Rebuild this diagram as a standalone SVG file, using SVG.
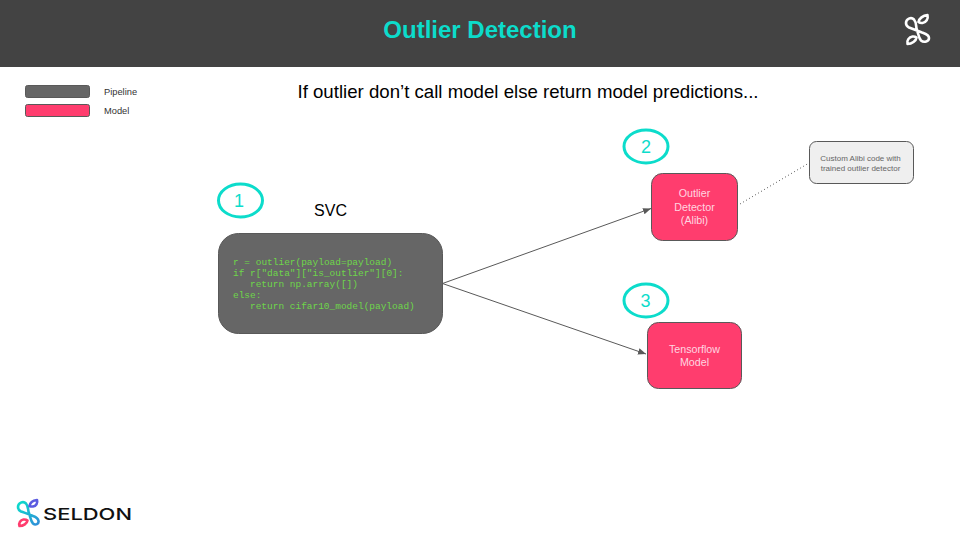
<svg xmlns="http://www.w3.org/2000/svg" width="960" height="540" viewBox="0 0 960 540">
<style>
text{font-family:"Liberation Sans",Arial,sans-serif}
.pipe{fill:#666;stroke:#595959;stroke-width:1}
.model{fill:#ff3d6e;stroke:#595959;stroke-width:1}
.badge{fill:#fff;stroke:#0cdccb;stroke-width:3}
.num{fill:#0cdccb;font-size:18px;text-anchor:middle}
.mt{fill:#ffd5e0;font-size:10.7px;text-anchor:middle}
.code{fill:#6ed64a;font-family:"Liberation Mono",monospace;font-size:9.47px;white-space:pre}
.leg{fill:#333;font-size:9.3px}
.conn{fill:none;stroke:#595959;stroke-width:1}
.logo{fill:none;stroke-width:2.6;stroke-linecap:round;stroke-linejoin:round}
</style>
<defs>
<marker id="arr" markerUnits="userSpaceOnUse" markerWidth="9" markerHeight="8" refX="8" refY="4" orient="auto"><path d="M0 0.8L8 4L0 7.2Z" fill="#595959"/></marker>
<linearGradient id="loopgrad" gradientUnits="userSpaceOnUse" x1="18" y1="503" x2="38" y2="524"><stop offset="0" stop-color="#0cdccb"/><stop offset="1" stop-color="#2f8fd8"/></linearGradient>
</defs>
<rect id="header" x="0" y="0" width="960" height="67" fill="#434343"/>
<text x="480" y="38" text-anchor="middle" font-size="24" font-weight="700" fill="#0cdccb">Outlier Detection</text>
<g id="header-logo" class="logo" stroke="#fff">
<path d="M906 23C906 19 911 16.500 914 19.500C917 23 915.500 27 917 30C918.500 34 918.500 38 921 40.500C924 43 929 41.500 929 38C929 34.500 925 33.500 922 32.500C917 30.500 913 29 909 27.500C907 26.500 906 25 906 23Z"/>
<path d="M918.500 22C919 18.500 923 15.500 927.500 15C928.500 19 926 22.500 922.500 23C920.500 23.200 919.500 22.800 918.500 22Z"/>
<path d="M916.500 37.500C916 41 912 44 907.500 44C906.500 40.500 909 37 912.500 36.500C914.500 36.300 915.500 36.700 916.500 37.500Z"/>
</g>
<text x="528" y="98" text-anchor="middle" font-size="18.650" fill="#000">If outlier don’t call model else return model predictions...</text>
<g id="legend">
<rect class="pipe" x="25.500" y="85.500" width="64" height="12" rx="2"/>
<rect class="model" x="25.500" y="104.500" width="64" height="12" rx="2"/>
<text class="leg" x="104" y="95">Pipeline</text>
<text class="leg" x="104" y="114">Model</text>
</g>
<g id="connectors">
<path class="conn" d="M442.500 283.500L651 208.500" marker-end="url(#arr)"/>
<path class="conn" d="M442.500 283.500L646 354" marker-end="url(#arr)"/>
<path class="conn" d="M740 204L809 163" stroke-dasharray="1 2.500" stroke-width="1.200"/>
</g>
<g id="badge-1"><ellipse class="badge" cx="240.500" cy="200.500" rx="22" ry="16.500"/><text class="num" x="239" y="207">1</text></g>
<g id="badge-2"><ellipse class="badge" cx="646" cy="146.500" rx="22" ry="16.500"/><text class="num" x="646" y="153">2</text></g>
<g id="badge-3"><ellipse class="badge" cx="646" cy="300.500" rx="22" ry="16.500"/><text class="num" x="645.500" y="307">3</text></g>
<text x="330.500" y="216" text-anchor="middle" font-size="16" fill="#000">SVC</text>
<g id="svc">
<rect class="pipe" x="218.500" y="233.500" width="224" height="100" rx="20"/>
<text class="code" x="233" y="265">r = outlier(payload=payload)</text>
<text class="code" x="233" y="276">if r["data"]["is_outlier"][0]:</text>
<text class="code" x="250" y="287">return np.array([])</text>
<text class="code" x="233" y="298">else:</text>
<text class="code" x="250" y="309">return cifar10_model(payload)</text>
</g>
<g id="outlier-detector">
<rect class="model" x="651.500" y="173.500" width="86" height="67" rx="11"/>
<text class="mt" x="694.500" y="197">Outlier</text>
<text class="mt" x="694.500" y="211">Detector</text>
<text class="mt" x="694.500" y="224">(Alibi)</text>
</g>
<g id="tensorflow-model">
<rect class="model" x="647.500" y="322.500" width="94" height="66" rx="11"/>
<text class="mt" x="694.500" y="353">Tensorflow</text>
<text class="mt" x="694.500" y="366">Model</text>
</g>
<g id="note">
<rect x="809.500" y="141.500" width="104" height="42" rx="7" fill="#efefef" stroke="#595959"/>
<text x="860.500" y="160.500" text-anchor="middle" font-size="8" fill="#666">Custom Alibi code with</text>
<text x="860.500" y="170.500" text-anchor="middle" font-size="8" fill="#666">trained outlier detector</text>
</g>
<g id="seldon-logo">
<g class="logo">
<path stroke="url(#loopgrad)" d="M18 507C18 503 23 500.500 26 503.500C29 507 27.500 510 29 513C30.500 517 30.500 521 33 523.500C35.500 525.500 39 524 38.500 521C38 518 36 517 33 516C29 514 25 513 21 511.500C19 510.500 18 509 18 507Z"/>
<path stroke="#5b5be0" d="M29.500 506C30 503 33 500.500 37 500C38 503 36 506 33 506.500C31.500 506.700 30.500 506.500 29.500 506Z"/>
<path stroke="#ff3d6e" d="M27.500 520.500C27 523.500 23.500 526 19.500 526C18.500 523 20.500 520 23.500 519.500C25.500 519.300 26.500 519.700 27.500 520.500Z"/>
</g>
<text x="43" y="519.500" font-family="Inter,'Liberation Sans',sans-serif" style="font-family:Inter,'Liberation Sans',sans-serif" font-size="16.500" font-weight="500" fill="#111" textLength="89" lengthAdjust="spacingAndGlyphs">SELDON</text>
</g>
</svg>
